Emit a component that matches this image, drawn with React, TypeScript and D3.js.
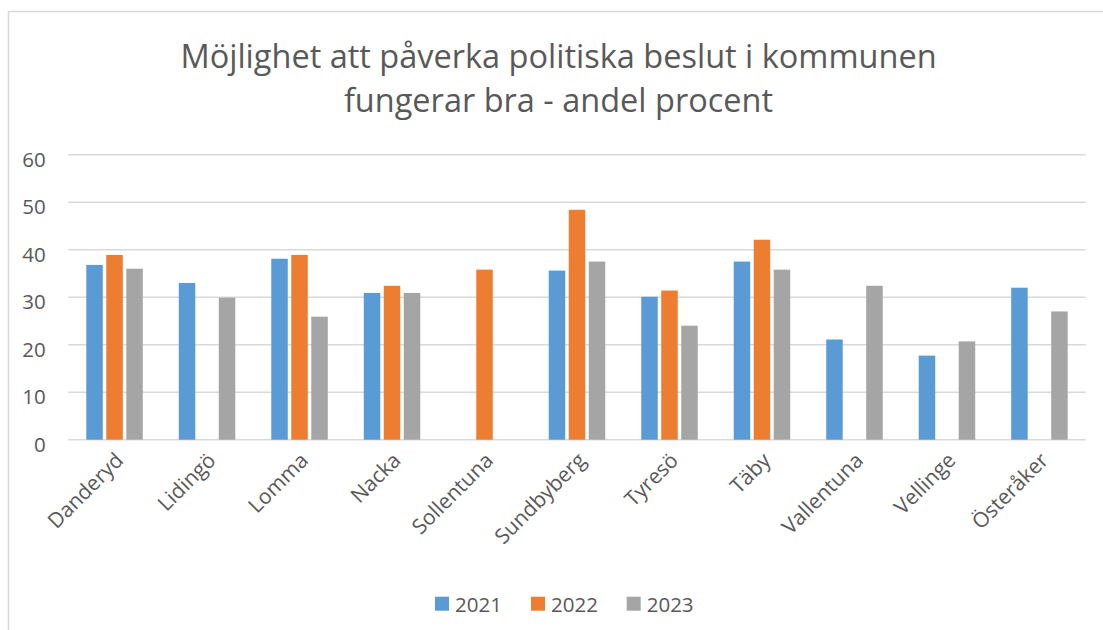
import React from "react";
import * as d3 from "d3";

const categories = ["Danderyd", "Lidingö", "Lomma", "Nacka", "Sollentuna", "Sundbyberg", "Tyresö", "Täby", "Vallentuna", "Vellinge", "Österåker"];
const seriesNames = ["2021", "2022", "2023"];
const values2021: (number | null)[] = [36.8, 33.0, 38.1, 30.9, null, 35.6, 30.1, 37.5, 21.1, 17.7, 32.0];
const values2022: (number | null)[] = [38.9, null, 38.9, 32.4, 35.8, 48.4, 31.4, 42.1, null, null, null];
const values2023: (number | null)[] = [36.0, 29.9, 25.9, 30.9, null, 37.5, 24.0, 35.8, 32.4, 20.7, 27.0];
const yTicks = [0, 10, 20, 30, 40, 50, 60];
const titleLines = ["Möjlighet att påverka politiska beslut i kommunen", "fungerar bra - andel procent"];
const colors = ["#5B9BD5", "#ED7D31", "#A5A5A5"];

const W = 1103;
const H = 630;
const FONT = "'Open Sans', sans-serif";
const TEXT = "#595959";

export default function App() {
  const series = [values2021, values2022, values2023];
  const left = 68.3, right = 1085.7, top = 154.7, bottom = 439.7;
  const x = d3.scaleBand().domain(categories).range([left, right]).paddingInner(0).paddingOuter(0);
  const y = d3.scaleLinear().domain([0, 60]).range([bottom, top]);
  const barW = 16.5;
  const gap = 3.5;
  const groupW = barW * 3 + gap * 2;
  const cx = 558.5;

  return (
    <svg width={W} height={H} style={{ position: "absolute", left: 0, top: 0, background: "#fff" }} fontFamily={FONT}>
      <rect x={8.5} y={11.5} width={1110} height={700} fill="#fff" stroke="#D9D9D9" strokeWidth={1.5} />
      {titleLines.map((t, i) => (
        <text key={i} x={cx} y={68.3 + i * 43.5} textAnchor="middle" fontSize={32.5} fill={TEXT}>{t}</text>
      ))}
      {yTicks.map((t) => (
        <g key={t}>
          <line x1={left} x2={right} y1={y(t)} y2={y(t)} stroke="#D9D9D9" strokeWidth={1.5} />
          <text x={45.7} y={y(t) + 12} textAnchor="end" fontSize={20.5} fill={TEXT}>{t}</text>
        </g>
      ))}
      {categories.map((c, ci) => {
        const center = (x(c) as number) + x.bandwidth() / 2;
        const start = center - groupW / 2;
        return (
          <g key={c}>
            {series.map((s, si) => {
              const v = s[ci];
              if (v == null) return null;
              return (
                <rect key={si} x={start + si * (barW + gap)} y={y(v)} width={barW} height={y(0) - y(v)} fill={colors[si]} />
              );
            })}
            <text
              transform={`translate(${center + 10},${bottom + 22}) rotate(-45)`}
              textAnchor="end"
              fontSize={21}
              fill={TEXT}
            >{c}</text>
          </g>
        );
      })}
      {seriesNames.map((n, i) => {
        const lx = [435, 531, 626.7][i];
        return (
          <g key={n}>
            <rect x={lx} y={596.7} width={14} height={14} fill={colors[i]} />
            <text x={lx + 20} y={611.5} fontSize={20.5} fill={TEXT}>{n}</text>
          </g>
        );
      })}
    </svg>
  );
}
